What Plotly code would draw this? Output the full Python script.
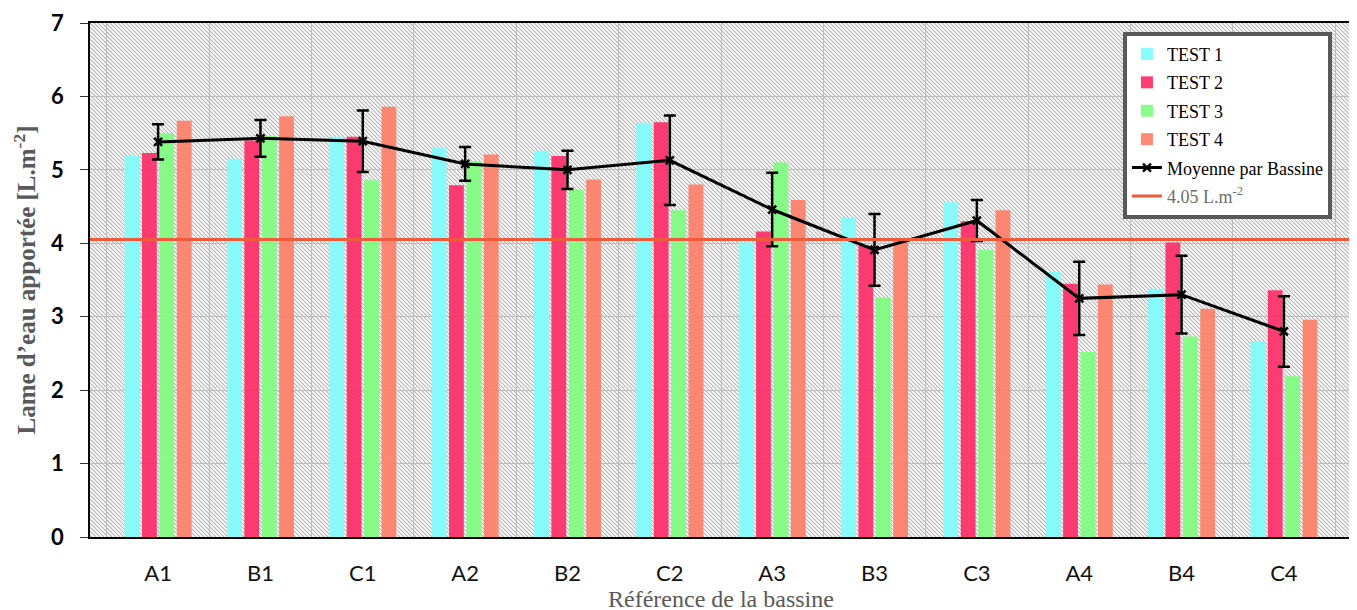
import base64
import plotly.graph_objects as go

categories = ["A1", "B1", "C1", "A2", "B2", "C2", "A3", "B3", "C3", "A4", "B4", "C4"]
test1 = [5.19, 5.15, 5.45, 5.30, 5.26, 5.64, 4.01, 4.35, 4.56, 3.61, 3.38, 2.67]
test2 = [5.23, 5.40, 5.45, 4.79, 5.19, 5.65, 4.16, 3.97, 4.30, 3.45, 4.01, 3.36]
test3 = [5.50, 5.46, 4.86, 5.12, 4.73, 4.45, 5.10, 3.26, 3.91, 2.52, 2.73, 2.19]
test4 = [5.67, 5.73, 5.86, 5.21, 4.87, 4.80, 4.59, 4.07, 4.45, 3.44, 3.11, 2.96]
moyenne = [5.38, 5.43, 5.39, 5.08, 5.00, 5.13, 4.46, 3.91, 4.31, 3.25, 3.30, 2.80]
ecart = [0.24, 0.25, 0.42, 0.23, 0.26, 0.61, 0.50, 0.49, 0.28, 0.50, 0.53, 0.48]
seuil = 4.05

test_names = ["TEST 1", "TEST 2", "TEST 3", "TEST 4"]
test_colors = ["#80fcfc", "#fe2e68", "#80fc80", "#fe806a"]

# hatched background of the plot area (svg pattern as an image)
svg = (
    '<svg xmlns="http://www.w3.org/2000/svg" width="1262" height="514">'
    '<defs><pattern id="h" patternUnits="userSpaceOnUse" width="4" height="4">'
    '<rect width="4" height="4" fill="#ffffff"/>'
    '<path d="M-1,-1 L5,5 M-1,3 L1,5 M3,-1 L5,1" stroke="#b4b4b4" stroke-width="1.2"/>'
    '</pattern></defs><rect width="1262" height="514" fill="url(#h)"/></svg>'
)
hatch = "data:image/svg+xml;base64," + base64.b64encode(svg.encode()).decode()

fig = go.Figure()

for name, vals, col in zip(test_names, [test1, test2, test3, test4], test_colors):
    fig.add_trace(go.Bar(
        x=categories, y=vals, name=name,
        marker=dict(color=col, line_width=0), opacity=0.92,
        legendgroup=name,
    ))

fig.add_trace(go.Scatter(
    x=categories, y=moyenne, name="Moyenne par Bassine",
    mode="lines+markers",
    line=dict(color="black", width=3),
    marker=dict(symbol="x-thin-open", size=8, color="black", line=dict(width=2.5, color="black")),
    error_y=dict(type="data", array=ecart, color="black", thickness=2.5, width=6),
    legendgroup="moy",
))

fig.add_shape(
    type="line", xref="paper", x0=0, x1=1, yref="y", y0=seuil, y1=seuil,
    line=dict(color="#f05a3c", width=3), layer="above",
    showlegend=True, legendgroup="seuil",
    name='<span style="color:#6e6e6e">4.05 L.m<sup>-2</sup></span>',
)

fig.add_layout_image(
    source=hatch, xref="paper", yref="paper", x=0, y=1, sizex=1, sizey=1,
    xanchor="left", yanchor="top", sizing="stretch", layer="below",
)

# page body has an 8px margin, so the figure is shifted by 8px
fig.update_layout(
    width=1349, height=610,
    margin=dict(l=82, r=5, t=15, b=81),
    paper_bgcolor="white", plot_bgcolor="rgba(0,0,0,0)",
    barmode="group", bargap=0.32, bargroupgap=0.15,
    legend=dict(
        x=0.8185, y=0.983, xanchor="left", yanchor="top",
        bgcolor="white", bordercolor="#595959", borderwidth=4,
        font=dict(family="Liberation Serif", size=18, color="black"),
        traceorder="grouped", tracegroupgap=2,
    ),
    xaxis=dict(
        automargin=False,
        tickson="boundaries", showgrid=True, gridcolor="#bdbdbd", gridwidth=1,
        showline=True, linecolor="black", linewidth=1.5, mirror=True,
        ticks="", ticklabelstandoff=16,
        tickfont=dict(family="Lato", size=22, color="#111"),
        title=dict(text="Référence de la bassine", standoff=0,
                   font=dict(family="Liberation Serif", size=24, color="#595959")),
    ),
    yaxis=dict(
        automargin=False,
        range=[0, 7], dtick=1, showgrid=True, gridcolor="#bdbdbd", gridwidth=1,
        zeroline=False, showline=True, linecolor="black", linewidth=1.5,
        ticks="outside", ticklen=8, tickcolor="#333",
        ticklabelstandoff=12,
        tickfont=dict(family="Lato", size=22, color="black", weight="bold"),
        title=dict(text="Lame d’eau apportée [L.m<sup>-2</sup>]", standoff=8,
                   font=dict(family="Liberation Serif", size=25, color="#595959", weight="bold")),
    ),
)

fig.write_html("out.html")
